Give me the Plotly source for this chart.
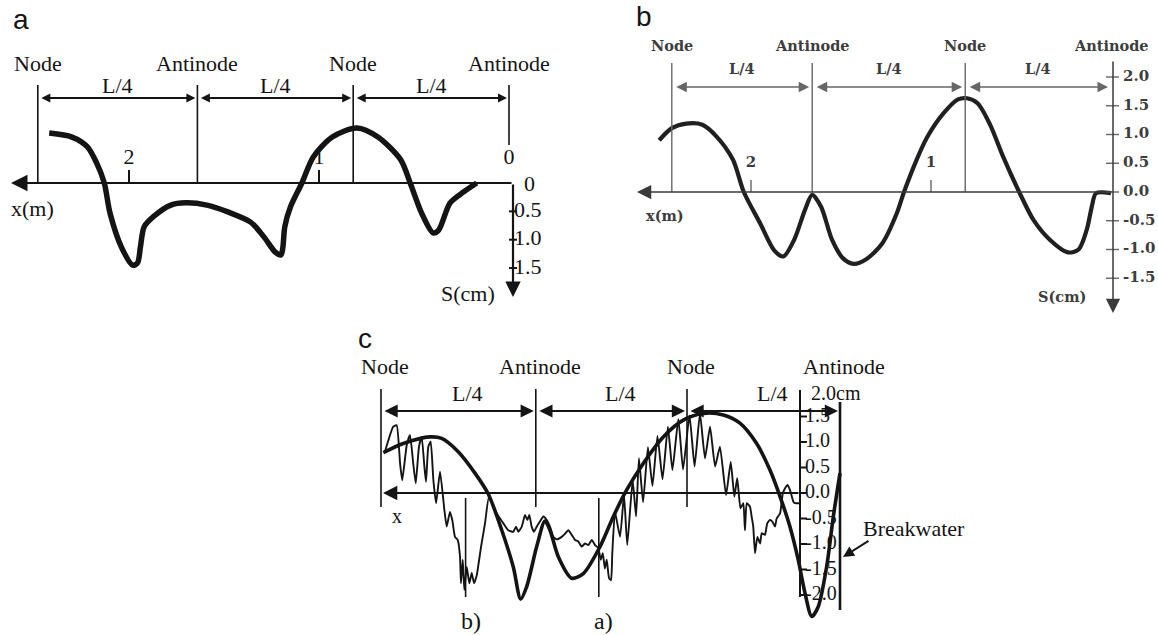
import plotly.graph_objects as go

W, H = 1158, 635
SERIF = "Liberation Serif, Times New Roman, serif"
BSERIF = "DejaVu Serif, serif"
SANS = "Liberation Sans, Arial, sans-serif"
INK = "#141414"
GREY_INK = "#3d3d3d"
GREY_LINE = "#666666"

# ---------------- data ----------------
# (a) surface profile: x in m (0 at the antinode, growing to the left), S in cm (positive downward)
A_X = [2.42, 2.30, 2.22, 2.17, 2.13, 2.10, 2.04, 1.98, 1.955, 1.94, 1.92, 1.87, 1.78, 1.70,
       1.59, 1.48, 1.36, 1.29, 1.23, 1.20, 1.19, 1.18, 1.15, 1.09, 1.03, 0.93, 0.80, 0.69,
       0.57, 0.52, 0.46, 0.40, 0.37, 0.31, 0.24, 0.17]
A_S = [-0.88, -0.81, -0.64, -0.35, 0.0, 0.53, 1.13, 1.45, 1.41, 1.13, 0.77, 0.59, 0.39, 0.35,
       0.39, 0.51, 0.69, 0.95, 1.22, 1.27, 1.13, 0.77, 0.42, 0.0, -0.46, -0.81, -0.97, -0.81,
       -0.41, 0.0, 0.53, 0.88, 0.83, 0.35, 0.16, 0.0]
A_NODES = [2.48, 1.64, 0.82, 0.0]
A_XTICKS = [2, 1]
A_YTICKS = [0.5, 1.0, 1.5]

# (b) surface profile: x in m, S in cm (positive upward)
B_X = [2.51, 2.44, 2.36, 2.27, 2.19, 2.10, 2.04, 1.95, 1.87, 1.82, 1.76, 1.70, 1.66, 1.61,
       1.55, 1.49, 1.43, 1.36, 1.27, 1.19, 1.15, 1.08, 1.02, 0.93, 0.85, 0.80, 0.74, 0.67,
       0.60, 0.51, 0.43, 0.34, 0.24, 0.18, 0.135, 0.107, 0.083, 0.0]
B_S = [0.90, 1.11, 1.19, 1.17, 0.96, 0.56, 0.0, -0.54, -1.02, -1.12, -0.83, -0.31, -0.05, -0.26,
       -0.83, -1.15, -1.25, -1.17, -0.89, -0.37, 0.0, 0.56, 0.96, 1.37, 1.61, 1.63, 1.54, 1.16,
       0.62, 0.0, -0.49, -0.83, -1.05, -1.0, -0.66, -0.26, -0.02, -0.02]
B_NODES = [2.44, 1.66, 0.81, 0.0]
B_XTICKS = [2, 1]
B_YTICKS = [2.0, 1.5, 1.0, 0.5, 0.0, -0.5, -1.0, -1.5]

# (c) curve a): smooth profile; curve b): oscillating record. x in m, S in cm
C_A_X = [2.537, 2.426, 2.278, 2.213, 2.121, 2.028, 1.954, 1.879, 1.815, 1.774, 1.741, 1.685,
         1.639, 1.611, 1.565, 1.491, 1.426, 1.333, 1.259, 1.185, 1.093, 0.982, 0.871, 0.759,
         0.648, 0.556, 0.463, 0.389, 0.333, 0.278, 0.232, 0.194, 0.157, 0.121, 0.074, 0.037, 0.0]
C_A_S = [0.79, 0.97, 1.10, 1.07, 0.81, 0.39, -0.02, -0.73, -1.45, -2.08, -1.84, -1.05,
         -0.55, -0.73, -1.25, -1.67, -1.58, -1.05, -0.46, 0.06, 0.58, 1.10, 1.43, 1.56,
         1.53, 1.37, 0.97, 0.45, -0.07, -0.66, -1.31, -1.97, -2.42, -2.23, -1.44, -0.46, 0.39]
C_B_X = [2.528, 2.482, 2.463, 2.444, 2.432, 2.407, 2.389, 2.371, 2.357, 2.339, 2.324, 2.309,
         2.300, 2.287, 2.274, 2.259, 2.244, 2.222, 2.198, 2.185, 2.167, 2.154, 2.139, 2.124,
         2.111, 2.106, 2.096, 2.087, 2.074, 2.059, 2.046, 2.033, 2.018, 1.994, 1.972, 1.950,
         1.907, 1.871, 1.843, 1.815, 1.800, 1.787, 1.768, 1.750, 1.737, 1.726, 1.713, 1.700,
         1.685, 1.667, 1.648, 1.629, 1.611, 1.593, 1.574, 1.546, 1.528, 1.509, 1.491, 1.472,
         1.454, 1.435, 1.417, 1.398, 1.379, 1.361, 1.343, 1.329, 1.318, 1.306, 1.296, 1.283,
         1.272, 1.265, 1.250, 1.222, 1.200, 1.182, 1.152, 1.133, 1.117, 1.094, 1.067, 1.042,
         1.014, 0.986, 0.956, 0.931, 0.898, 0.872, 0.836, 0.808, 0.778, 0.750, 0.722, 0.694,
         0.667, 0.633, 0.607, 0.587, 0.571, 0.553, 0.537, 0.528, 0.518, 0.500, 0.491, 0.482,
         0.472, 0.459, 0.444, 0.435, 0.417, 0.404, 0.389, 0.376, 0.361, 0.352, 0.333, 0.318,
         0.306, 0.291, 0.278, 0.259, 0.250, 0.226]
C_B_S = [0.81, 1.30, 1.33, 0.58, 0.25, 0.94, 1.14, 0.58, 0.19, 0.91, 1.10, 0.52,
         0.22, 0.91, 1.01, 0.25, -0.20, 0.42, -0.33, -0.66, -0.37, -0.53, -0.86, -0.92,
         -1.25, -1.77, -1.31, -1.90, -1.45, -1.77, -1.57, -1.77, -1.61, -1.05, -0.59, -0.07,
         -0.40, -0.59, -0.73, -0.76, -0.66, -0.76, -0.66, -0.43, -0.53, -0.43, -0.66, -0.76,
         -0.66, -0.56, -0.46, -0.53, -0.66, -0.86, -0.91, -0.86, -0.80, -0.73, -0.82, -0.92,
         -0.95, -1.05, -0.99, -1.02, -0.92, -1.02, -1.08, -1.31, -1.18, -1.48, -1.31, -1.67,
         -1.71, -1.18, -0.37, -0.86, -0.04, -1.02, 0.25, -0.46, 0.68, -0.18, 0.90, 0.14,
         1.12, 0.27, 1.30, 0.45, 1.45, 0.46, 1.52, 0.52, 1.56, 0.68, 1.30, 0.52,
         0.91, -0.04, 0.61, -0.07, 0.29, -0.30, -0.20, -0.73, -0.20, -0.27, -0.46, -0.66,
         -1.18, -0.86, -0.99, -0.79, -0.82, -0.59, -0.53, -0.56, -0.66, -0.50, -0.40, -0.01,
         0.09, 0.16, 0.06, -0.17, -0.20, -0.20]
C_NODES = [2.55, 1.69, 0.85, 0.0]
C_YTICKS = [1.5, 1.0, 0.5, 0.0, -0.5, -1.0, -1.5, -2.0]
C_MARKS = [2.08, 1.34]
C_MARK_NAMES = ["b)", "a)"]

NODE_NAMES = ["Node", "Antinode", "Node", "Antinode"]

# ---------------- panel geometry (pixels) ----------------
GEOM = {
    "a": dict(box=(0, 0, 565, 314), x0=509, sx=190, y0=183, sy=56.7, down=True, xa="x", ya="y"),
    "b": dict(box=(565, 0, 1158, 320), x0=1111, sx=180, y0=192, sy=57.5, down=False, xa="x2", ya="y2"),
    "c": dict(box=(350, 322, 1000, 635), x0=840, sx=180, y0=493, sy=51, down=False, xa="x3", ya="y3"),
}


def xv(p, px):
    return (p["x0"] - px) / p["sx"]


def yv(p, py):
    s = (p["y0"] - py) / p["sy"]
    return -s if p["down"] else s


def dx(p, n):
    # data offset for n pixels to the right
    return -n / p["sx"]


def dy(p, n):
    # data offset for n pixels downward
    return (n if p["down"] else -n) / p["sy"]


fig = go.Figure()
shapes, annotations = [], []


def seg(p, x0, y0, x1, y1, w, color):
    shapes.append(dict(type="line", xref=p["xa"], yref=p["ya"], x0=x0, y0=y0, x1=x1, y1=y1,
                       line=dict(width=w, color=color)))


def arrow(p, xh, yh, xt, yt, w, color, size, both=False):
    annotations.append(dict(xref=p["xa"], yref=p["ya"], axref=p["xa"], ayref=p["ya"],
                            x=xh, y=yh, ax=xt, ay=yt, text="", showarrow=True,
                            arrowhead=2, startarrowhead=2, arrowsize=size, startarrowsize=size,
                            arrowwidth=w, arrowcolor=color, standoff=0, startstandoff=0,
                            arrowside="end+start" if both else "end"))


def label(p, x, y, text, size, color, family, xanchor="center", yanchor="middle", weight="normal"):
    annotations.append(dict(xref=p["xa"], yref=p["ya"], x=x, y=y, text=text, showarrow=False,
                            xanchor=xanchor, yanchor=yanchor,
                            font=dict(size=size, color=color, family=family, weight=weight)))


def text_trace(p, xs, ys, texts, size, color, family, pos, weight="normal"):
    fig.add_trace(go.Scatter(x=xs, y=ys, text=texts, mode="text", textposition=pos,
                             textfont=dict(size=size, color=color, family=family, weight=weight),
                             xaxis=p["xa"], yaxis=p["ya"], hoverinfo="skip", showlegend=False))


def curve(p, xs, ys, w, color, smoothing=0.8):
    line = dict(width=w, color=color, shape="spline", smoothing=smoothing)
    fig.add_trace(go.Scatter(x=xs, y=ys, mode="lines", line=line,
                             xaxis=p["xa"], yaxis=p["ya"], hoverinfo="skip", showlegend=False))


def fmt(v):
    return f"{v:.1f}"


# ---------------- panel a ----------------
pa = GEOM["a"]
ax_a = xv(pa, 513)
top_a = yv(pa, 85)
for i, xn in enumerate(A_NODES):
    bottom = yv(pa, 145) if i == len(A_NODES) - 1 else 0
    seg(pa, xn, top_a, xn, bottom, 1.6, INK)
    label(pa, xn, yv(pa, 63), NODE_NAMES[i], 22, INK, SERIF)
for x1, x2 in zip(A_NODES[:-1], A_NODES[1:]):
    arrow(pa, x2 + dx(pa, -2), yv(pa, 98), x1 + dx(pa, 2), yv(pa, 98), 2, INK, 0.9, both=True)
    label(pa, (x1 + x2) / 2, yv(pa, 85), "L/4", 22, INK, SERIF)
# x axis with arrow to the left
arrow(pa, xv(pa, 11), 0, ax_a, 0, 2.2, INK, 1.5)
# S axis with arrow downward
arrow(pa, ax_a, yv(pa, 297), ax_a, 0, 2.2, INK, 1.4)
for t in A_XTICKS:
    seg(pa, t, 0, t, dy(pa, -13), 2, INK)
for t in A_YTICKS:
    seg(pa, ax_a + dx(pa, -4), t, ax_a + dx(pa, 4), t, 2, INK)
text_trace(pa, A_XTICKS + [0], [yv(pa, 158)] * 3, [str(t) for t in A_XTICKS] + ["0"], 22, INK, SERIF,
           "middle center")
text_trace(pa, [ax_a + dx(pa, 1)] * 3, A_YTICKS, [fmt(t) for t in A_YTICKS], 22, INK, SERIF, "middle right")
label(pa, ax_a + dx(pa, 9), 0, "0", 22, INK, SERIF, xanchor="left")
label(pa, xv(pa, 32), yv(pa, 208), "x(m)", 22, INK, SERIF)
label(pa, xv(pa, 468), yv(pa, 293), "S(cm)", 22, INK, SERIF)
curve(pa, A_X, A_S, 5.5, INK)

# ---------------- panel b ----------------
pb = GEOM["b"]
ax_b = xv(pb, 1113)
for i, xn in enumerate(B_NODES):
    if i < len(B_NODES) - 1:
        seg(pb, xn, yv(pb, 63), xn, 0, 1.4, GREY_LINE)
    label(pb, xn, yv(pb, 45), NODE_NAMES[i], 14.5, GREY_INK, BSERIF, weight="bold")
for x1, x2 in zip(B_NODES[:-1], B_NODES[1:]):
    arrow(pb, x2 + dx(pb, -3), yv(pb, 87), x1 + dx(pb, 3), yv(pb, 87), 1.4, GREY_LINE, 1.5, both=True)
    label(pb, (x1 + x2) / 2, yv(pb, 68), "L/4", 14.5, GREY_INK, BSERIF, weight="bold")
arrow(pb, xv(pb, 637), 0, ax_b, 0, 1.5, "#3a3a3a", 1.9)
arrow(pb, ax_b, yv(pb, 313), ax_b, yv(pb, 60), 1.5, "#3a3a3a", 1.9)
for t in B_XTICKS:
    seg(pb, t, 0, t, dy(pb, -12), 1.4, GREY_LINE)
for t in B_YTICKS:
    seg(pb, ax_b + dx(pb, -7), t, ax_b + dx(pb, 6), t, 1.4, GREY_LINE)
text_trace(pb, B_XTICKS, [yv(pb, 163)] * 2, [str(t) for t in B_XTICKS], 15, GREY_INK, BSERIF,
           "middle center", weight="bold")
text_trace(pb, [ax_b + dx(pb, 10)] * len(B_YTICKS), B_YTICKS, [fmt(t) for t in B_YTICKS], 15, GREY_INK,
           BSERIF, "middle right", weight="bold")
label(pb, xv(pb, 665), yv(pb, 215), "x(m)", 14.5, GREY_INK, BSERIF, weight="bold")
label(pb, xv(pb, 1062), yv(pb, 296), "S(cm)", 14.5, GREY_INK, BSERIF, weight="bold")
curve(pb, B_X, B_S, 4.2, "#202020")

# ---------------- panel c ----------------
pc = GEOM["c"]
ax_c = xv(pc, 800)
for i, xn in enumerate(C_NODES):
    if i < len(C_NODES) - 1:
        seg(pc, xn, yv(pc, 389), xn, yv(pc, 507), 1.6, INK)
    label(pc, xn + dx(pc, 4), yv(pc, 366), NODE_NAMES[i], 22, INK, SERIF)
for x1, x2 in zip(C_NODES[:-1], C_NODES[1:]):
    arrow(pc, x2 + dx(pc, -2), yv(pc, 411), x1 + dx(pc, 2), yv(pc, 411), 2.2, INK, 1.2, both=True)
    label(pc, (x1 + x2) / 2 + dx(pc, 9), yv(pc, 393), "L/4", 22, INK, SERIF)
# breakwater wall and S axis
seg(pc, 0, yv(pc, 402), 0, yv(pc, 610), 2.6, INK)
seg(pc, ax_c, yv(pc, 390), ax_c, yv(pc, 597), 2, INK)
arrow(pc, xv(pc, 383), 0, ax_c, 0, 2.2, INK, 1.3)
for t in C_YTICKS:
    seg(pc, ax_c, t, ax_c + dx(pc, 7), t, 2, INK)
text_trace(pc, [ax_c + dx(pc, 5)] * len(C_YTICKS), C_YTICKS, [fmt(t) for t in C_YTICKS], 20, INK, SERIF,
           "middle right")
label(pc, ax_c + dx(pc, 9), yv(pc, 393), "2.0cm", 20, INK, SERIF, xanchor="left")
for xm, name in zip(C_MARKS, C_MARK_NAMES):
    seg(pc, xm, yv(pc, 498), xm, yv(pc, 597), 1.6, INK)
    label(pc, xm + dx(pc, 5), yv(pc, 621), name, 24, INK, SERIF)
label(pc, xv(pc, 397), yv(pc, 516), "x", 20, INK, SERIF)
label(pc, xv(pc, 861), yv(pc, 528), "Breakwater", 22, INK, SERIF, xanchor="left")
arrow(pc, xv(pc, 843), yv(pc, 557), xv(pc, 870), yv(pc, 540), 2, INK, 1.1)
curve(pc, C_B_X, C_B_S, 1.9, INK, smoothing=0.45)
curve(pc, C_A_X, C_A_S, 3.6, INK)

# panel letters
for txt, px, py in [("a", 11, 20), ("b", 634, 16), ("c", 356, 338)]:
    annotations.append(dict(xref="paper", yref="paper", x=px / W, y=1 - py / H, text=txt,
                            showarrow=False, xanchor="left", yanchor="middle",
                            font=dict(size=28, color=INK, family=SANS)))

layout = dict(width=W, height=H, margin=dict(l=0, r=0, t=0, b=0, pad=0),
              paper_bgcolor="white", plot_bgcolor="rgba(0,0,0,0)", showlegend=False,
              shapes=shapes, annotations=annotations)
for key, p in GEOM.items():
    L, T, R, B = p["box"]
    suffix = p["xa"][1:]
    layout["xaxis" + suffix] = dict(domain=[L / W, R / W], range=[xv(p, L), xv(p, R)], visible=False,
                                    fixedrange=True, anchor=p["ya"])
    layout["yaxis" + suffix] = dict(domain=[1 - B / H, 1 - T / H], range=[yv(p, B), yv(p, T)],
                                    visible=False, fixedrange=True, anchor=p["xa"])
fig.update_layout(**layout)
fig.write_html("out.html")
